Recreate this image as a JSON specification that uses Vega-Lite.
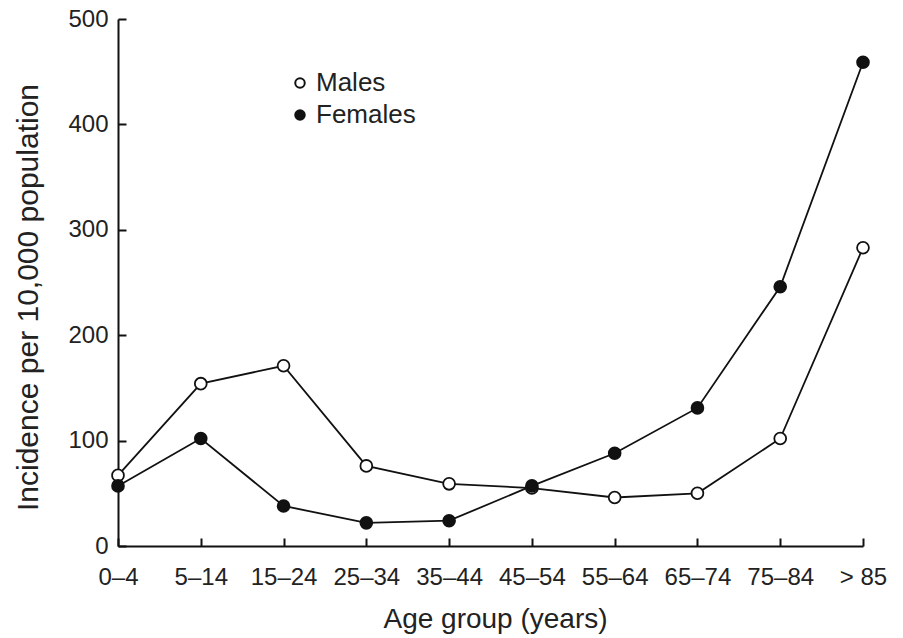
{
  "$schema": "https://vega.github.io/schema/vega-lite/v6.json",
  "width": 745,
  "height": 527,
  "autosize": {"type": "none"},
  "padding": {"left": 118, "top": 19, "right": 40, "bottom": 92},
  "config": {
    "font": "Liberation Sans",
    "view": {"stroke": null},
    "axis": {"grid": false, "domainColor": "#111", "domainWidth": 2, "tickColor": "#111", "tickWidth": 2, "labelColor": "#222", "titleColor": "#222", "labelFont": "Liberation Sans", "titleFont": "Liberation Sans", "titleFontWeight": "normal"},
    "legend": {"labelFont": "Liberation Sans"}
  },
  "data": {
    "values": [
      {"age": "0–4", "sex": "Males", "value": 67},
      {"age": "5–14", "sex": "Males", "value": 154},
      {"age": "15–24", "sex": "Males", "value": 171},
      {"age": "25–34", "sex": "Males", "value": 76},
      {"age": "35–44", "sex": "Males", "value": 59},
      {"age": "45–54", "sex": "Males", "value": 55},
      {"age": "55–64", "sex": "Males", "value": 46},
      {"age": "65–74", "sex": "Males", "value": 50},
      {"age": "75–84", "sex": "Males", "value": 102},
      {"age": "> 85", "sex": "Males", "value": 283},
      {"age": "0–4", "sex": "Females", "value": 57},
      {"age": "5–14", "sex": "Females", "value": 102},
      {"age": "15–24", "sex": "Females", "value": 38},
      {"age": "25–34", "sex": "Females", "value": 22},
      {"age": "35–44", "sex": "Females", "value": 24},
      {"age": "45–54", "sex": "Females", "value": 57},
      {"age": "55–64", "sex": "Females", "value": 88},
      {"age": "65–74", "sex": "Females", "value": 131},
      {"age": "75–84", "sex": "Females", "value": 246},
      {"age": "> 85", "sex": "Females", "value": 459}
    ]
  },
  "encoding": {
    "x": {
      "field": "age", "type": "ordinal",
      "sort": ["0–4", "5–14", "15–24", "25–34", "35–44", "45–54", "55–64", "65–74", "75–84", "> 85"],
      "scale": {"type": "point", "padding": 0},
      "axis": {"title": "Age group (years)", "labelAngle": 0, "labelFontSize": 24, "labelPadding": 27, "tickSize": -8, "titleFontSize": 28, "titleX": 377, "titleY": 81, "titleBaseline": "alphabetic", "titleAnchor": null}
    },
    "y": {
      "field": "value", "type": "quantitative",
      "scale": {"domain": [0, 500], "nice": false},
      "axis": {"title": "Incidence per 10,000 population", "values": [0, 100, 200, 300, 400, 500], "labelFontSize": 24, "labelPadding": 18, "tickSize": -8, "titleFontSize": 30, "titleX": -90, "titleY": 278, "titleBaseline": "middle", "titleAngle": 270, "titleAlign": "center"}
    }
  },
  "layer": [
    {
      "mark": {"type": "line", "color": "#111", "strokeWidth": 1.8},
      "encoding": {"detail": {"field": "sex"}}
    },
    {
      "mark": {"type": "point", "shape": "circle", "size": 140, "stroke": "#111", "strokeWidth": 1.8, "opacity": 1, "filled": true},
      "encoding": {
        "fill": {
          "field": "sex", "type": "nominal",
          "scale": {"domain": ["Males", "Females"], "range": ["white", "#111"]},
          "legend": {"title": null, "orient": "none", "legendX": 169, "legendY": 51, "labelFontSize": 26, "labelColor": "#222", "symbolType": "circle", "symbolSize": 90, "symbolStrokeColor": "#111", "symbolStrokeWidth": 2, "labelOffset": 3, "rowPadding": 6}
        }
      }
    }
  ]
}
